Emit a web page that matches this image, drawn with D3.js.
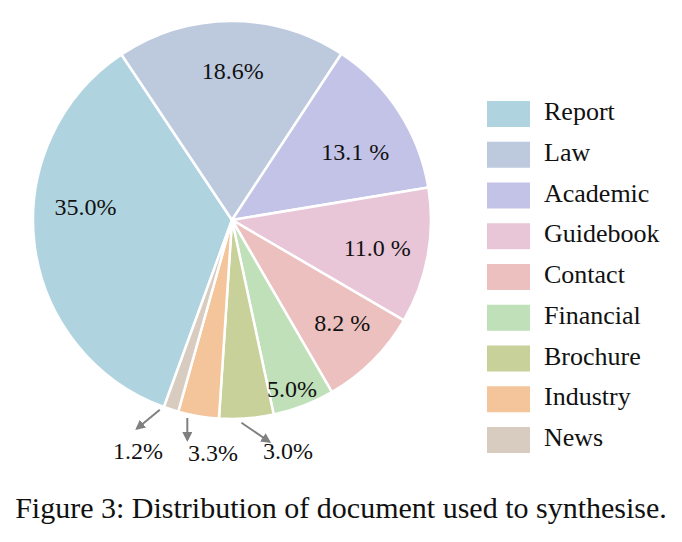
<!DOCTYPE html>
<html>
<head>
<meta charset="utf-8">
<script src="https://cdn.jsdelivr.net/npm/d3@7"></script>
<style>
  html, body { margin: 0; padding: 0; background: #fff; }
  text { font-family: "Liberation Serif", "Times New Roman", serif; fill: #111; }
</style>
</head>
<body>
<svg width="682" height="542"></svg>
<script>
// data
const categories = ["Report", "Law", "Academic", "Guidebook", "Contact", "Financial", "Brochure", "Industry", "News"];
const shares = [35.0, 18.6, 13.1, 11.0, 8.2, 5.0, 4.4, 3.3, 1.2];
const labels = ["35.0%", "18.6%", "13.1 %", "11.0 %", "8.2 %", "5.0%", "3.0%", "3.3%", "1.2%"];
const colors = ["#b0d4df", "#bdcade", "#c3c3e7", "#e8c6d8", "#ebc0bf", "#bfe0b8", "#c8d19a", "#f4c49a", "#d8cbbf"];

const width = 682, height = 542;
const cx = 232, cy = 220, radius = 199;
const deg = Math.PI / 180;

const $svg = d3.select("svg");

$svg.append("defs").append("marker")
  .attr("id", "arrow")
  .attr("viewBox", "0 0 10 10")
  .attr("refX", 8).attr("refY", 5)
  .attr("markerWidth", 5).attr("markerHeight", 5)
  .attr("orient", "auto-start-reverse")
  .append("path")
  .attr("d", "M0,0 L10,5 L0,10 z")
  .attr("fill", "#808080");

const color = d3.scaleOrdinal(categories, colors);

// clockwise from Report, first edge sits at about 200deg
const start = -160 * deg;
const pie = d3.pie().sort(null).value(d => d)
  .startAngle(start).endAngle(start + 2 * Math.PI);
const arcs = pie(shares);

const arc = d3.arc().innerRadius(0).outerRadius(radius);

const g = $svg.append("g").attr("transform", `translate(${cx},${cy})`);

g.selectAll("path.slice")
  .data(arcs)
  .enter()
  .append("path")
  .attr("class", "slice")
  .attr("d", arc)
  .attr("fill", (d, i) => color(categories[i]))
  .attr("stroke", "#fff")
  .attr("stroke-width", 2.5)
  .attr("stroke-linejoin", "round");

// polar helper, angle in radians from 12 o'clock
const polar = (a, r) => [r * Math.sin(a), -r * Math.cos(a)];
const mid = d => (d.startAngle + d.endAngle) / 2;

// inside labels for the big slices
const inner = arcs.slice(0, 6);
const labelShift = [12, 0.5, 4, 0.6, -2, 1.5];
const labelR = [147, 149, 141, 148, 151, 179];
g.selectAll("text.inner")
  .data(inner)
  .enter()
  .append("text")
  .attr("class", "inner")
  .attr("transform", (d, i) => {
    const [x, y] = polar(mid(d) + labelShift[i] * deg, labelR[i]);
    return `translate(${x},${y + 8})`;
  })
  .attr("text-anchor", "middle")
  .attr("font-size", 24)
  .text((d, i) => labels[i]);

// small slices: arrows out to labels below the pie
const outer = arcs.slice(6);
const arrowShift = [1.5, 3, 3];
const arrowTo = [
  { dx: 28, dy: 19 },
  { dx: 0, dy: 22 },
  { dx: -23, dy: 19 }
];
const labelPos = [{ x: 288, y: 459 }, { x: 213, y: 461 }, { x: 138, y: 459 }];

outer.forEach((d, i) => {
  const [x0, y0] = polar(mid(d) + arrowShift[i] * deg, radius + 4);
  g.append("line")
    .attr("x1", x0).attr("y1", y0)
    .attr("x2", x0 + arrowTo[i].dx).attr("y2", y0 + arrowTo[i].dy)
    .attr("stroke", "#808080")
    .attr("stroke-width", 2)
    .attr("marker-end", "url(#arrow)");
  $svg.append("text")
    .attr("x", labelPos[i].x).attr("y", labelPos[i].y)
    .attr("text-anchor", "middle")
    .attr("font-size", 24)
    .text(labels[6 + i]);
});

// legend
const step = 40.75;
const y = d3.scalePoint().domain(categories).range([101, 101 + 8 * step]);
const legend = $svg.append("g").attr("class", "legend");
const item = legend.selectAll("g")
  .data(categories)
  .enter()
  .append("g")
  .attr("transform", d => `translate(487,${y(d)})`);
item.append("rect")
  .attr("width", 43).attr("height", 26)
  .attr("fill", d => color(d));
item.append("text")
  .attr("x", 57).attr("y", 19)
  .attr("font-size", 26)
  .text(d => d);

// caption
$svg.append("text")
  .attr("x", width / 2).attr("y", 518)
  .attr("text-anchor", "middle")
  .attr("font-size", 30)
  .text("Figure 3: Distribution of document used to synthesise.");
</script>
</body>
</html>
